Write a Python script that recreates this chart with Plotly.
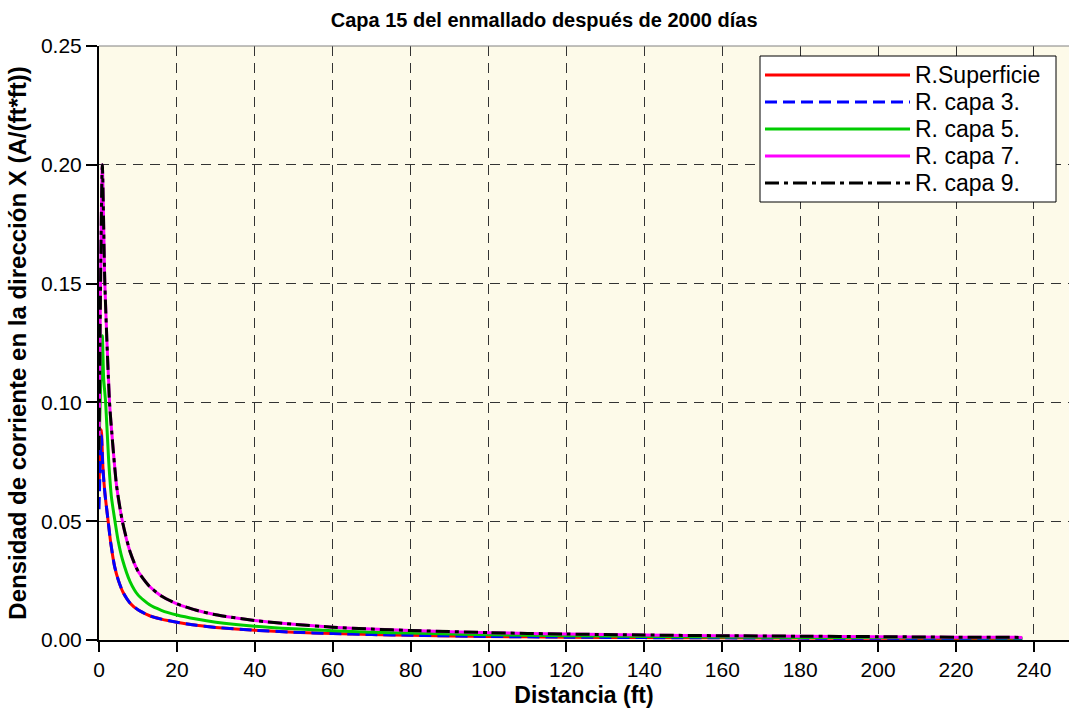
import plotly.graph_objects as go

# Distance along the mesh (ft) and current density in X (A/(ft*ft)) per layer
x_sup = [0, 0.6, 1.0, 1.5, 2.35, 3, 4, 5, 6.2, 8, 10, 13, 16, 20, 25, 30, 40, 50, 60, 70, 80,
         100, 120, 140, 160, 180, 200, 220, 237]
y_sup = [0.065, 0.0885, 0.073, 0.062, 0.050, 0.041, 0.031, 0.025, 0.0200, 0.0155, 0.0127,
         0.0102, 0.0088, 0.0075, 0.0062, 0.0053, 0.0041, 0.0033, 0.0027, 0.0023, 0.0020,
         0.0015, 0.0012, 0.0010, 0.0009, 0.0008, 0.0007, 0.0006, 0.0005]

x_c3 = x_sup
y_c3 = [0.055, 0.086, 0.072, 0.062, 0.050, 0.041, 0.031, 0.025, 0.0200, 0.0155, 0.0127,
        0.0102, 0.0088, 0.0075, 0.0062, 0.0053, 0.0041, 0.0033, 0.0027, 0.0023, 0.0020,
        0.0015, 0.0012, 0.0010, 0.0009, 0.0008, 0.0007, 0.0006, 0.0005]

x_c5 = [0, 0.85, 1.2, 1.7, 2.5, 3.2, 4.1, 5, 6, 8, 10, 13, 16, 20, 25, 30, 40, 50, 60, 70, 80,
        100, 120, 140, 160, 180, 200, 220, 237]
y_c5 = [0.080, 0.128, 0.110, 0.100, 0.075, 0.060, 0.050, 0.041, 0.034, 0.0245, 0.0190,
        0.0148, 0.0125, 0.0105, 0.0088, 0.0075, 0.0058, 0.0047, 0.0039, 0.0033, 0.0029,
        0.0022, 0.0018, 0.0015, 0.0013, 0.0011, 0.0010, 0.0009, 0.0008]

x_c7 = [0, 0.85, 1.5, 2.7, 3.5, 4.5, 6, 8, 10, 13, 16, 20, 25, 30, 40, 50, 60, 70, 80,
        100, 120, 140, 160, 180, 200, 220, 237]
y_c7 = [0.080, 0.200, 0.150, 0.100, 0.083, 0.065, 0.050, 0.037, 0.029, 0.0225, 0.0185,
        0.0152, 0.0125, 0.0106, 0.0082, 0.0066, 0.0054, 0.0046, 0.0040, 0.0031, 0.0025,
        0.0021, 0.0018, 0.0016, 0.0014, 0.0012, 0.0011]

x_c9 = x_c7
y_c9 = y_c7

names = ["R.Superficie", "R. capa 3.", "R. capa 5.", "R. capa 7.", "R. capa 9."]
colors = ["#FF0000", "#0000FF", "#00CC00", "#FF00FF", "#000000"]
dashes = ["solid", "12px,6px", "solid", "solid", "14px,5px,4px,5px"]

x_ticks = list(range(0, 241, 20))
y_ticks = [0.00, 0.05, 0.10, 0.15, 0.20, 0.25]

FONT = "Liberation Sans, Arial, sans-serif"
W, H = 1069, 713
ML, MR, MT, MB = 99, 0, 46, 73
PW, PH = W - ML - MR, H - MT - MB


def px(xp):
    return (xp - ML) / PW


def py(yp):
    return (H - MB - yp) / PH


fig = go.Figure()
series = [(x_sup, y_sup), (x_c3, y_c3), (x_c5, y_c5), (x_c7, y_c7), (x_c9, y_c9)]
for (xs, ys), name, color, dash in zip(series, names, colors, dashes):
    fig.add_trace(go.Scatter(
        x=xs, y=ys, mode="lines", name=name, showlegend=False,
        line=dict(color=color, width=3, dash=dash, shape="spline", smoothing=0.6),
    ))

fig.update_layout(
    width=W, height=H,
    margin=dict(l=ML, r=MR, t=MT, b=MB),
    paper_bgcolor="white",
    plot_bgcolor="#FDFAE9",
    font=dict(family=FONT, size=21, color="black"),
    title=dict(text="<b>Capa 15 del enmallado después de 2000 días</b>",
               x=0.509, xanchor="center", y=0.972, yanchor="middle",
               font=dict(family=FONT, size=20, color="black")),
    showlegend=False,
)

fig.update_xaxes(
    range=[0, 249], tickvals=x_ticks,
    showline=True, linecolor="black", linewidth=2,
    ticks="outside", ticklen=10, tickwidth=2, tickcolor="black",
    showgrid=True, gridcolor="#333333", gridwidth=1, griddash="10px,7px",
    zeroline=False,
    title=dict(text="<b>Distancia (ft)</b>", font=dict(family=FONT, size=23), standoff=7),
)
fig.update_yaxes(
    range=[0, 0.25], tickvals=y_ticks, tickformat=".2f",
    showline=True, linecolor="black", linewidth=2,
    ticks="outside", ticklen=11, tickwidth=2, tickcolor="black",
    showgrid=True, gridcolor="#333333", gridwidth=1, griddash="10px,7px",
    zeroline=False,
    title=dict(text="<b>Densidad de corriente en la dirección X (A/(ft*ft))</b>",
               font=dict(family=FONT, size=24), standoff=8),
)

# thin frame line along the top of the plotting area
fig.add_shape(type="line", xref="paper", yref="paper", x0=0, x1=1, y0=1, y1=1,
              line=dict(color="#808080", width=1))

# legend box with long line samples
fig.add_shape(type="rect", xref="paper", yref="paper",
              x0=px(760), x1=px(1056), y0=py(202), y1=py(56),
              fillcolor="white", line=dict(color="black", width=1), layer="above")
for i, (name, color, dash) in enumerate(zip(names, colors, dashes)):
    row_y = py(75 + 27 * i)
    fig.add_shape(type="line", xref="paper", yref="paper",
                  x0=px(765), x1=px(910), y0=row_y, y1=row_y,
                  line=dict(color=color, width=3, dash=dash), layer="above")
    fig.add_annotation(x=px(913), y=row_y, xref="paper", yref="paper",
                       text=name, showarrow=False, xanchor="left", yanchor="middle",
                       font=dict(family=FONT, size=23, color="black"))

fig.write_html("out.html")
